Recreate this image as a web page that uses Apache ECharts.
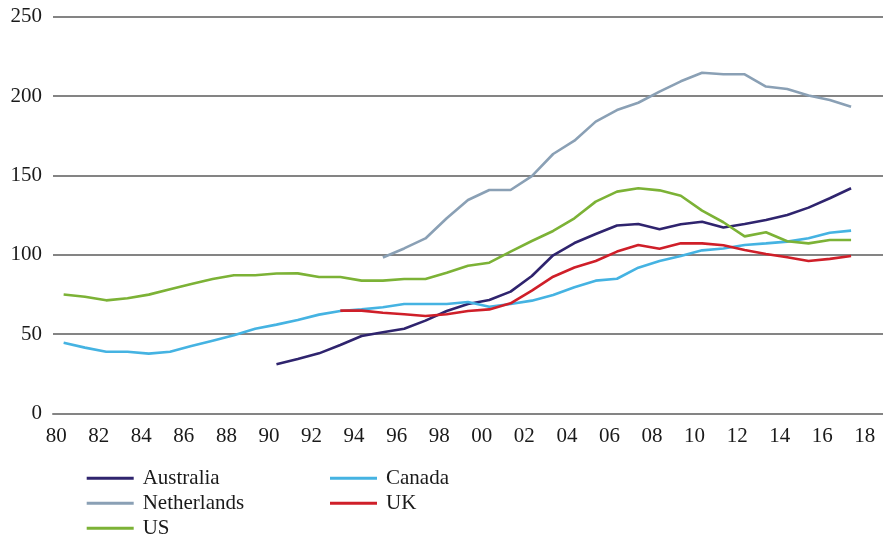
<!DOCTYPE html>
<html>
<head>
<meta charset="utf-8">
<script src="https://cdn.jsdelivr.net/npm/echarts@6/dist/echarts.min.js"></script>
<style>
  html, body { margin: 0; padding: 0; background: #fff; }
  #chart { width: 883px; height: 534px; }
</style>
</head>
<body>
<div id="chart"></div>
<script>
// 年份 1980-2018
const years = []
for (let y = 1980; y <= 2018; y++) years.push(String(y))

const yTicks = [0, 50, 100, 150, 200, 250]

// 各国数据 (1980-2017)，缺失为 null
const australia = [
  null, null, null, null, null, null, null, null, null, null,
  31, 34.3, 37.9, 43.2, 48.8, 51.2, 53.4, 58.5, 64.6, 69,
  71.5, 76.8, 86.6, 99.7, 107.4, 113.1, 118.4, 119.4, 116.1, 119.2,
  120.8, 117.2, 119.4, 121.9, 125.1, 129.7, 135.6, 141.9
]
const canada = [
  44.6, 41.5, 38.9, 38.9, 37.7, 38.9, 42.5, 45.9, 49.3, 53.4,
  56, 58.9, 62.3, 64.6, 65.6, 66.9, 69, 69, 69, 70.3,
  67.3, 69, 71.1, 74.7, 79.6, 83.7, 84.9, 91.9, 96.1, 99.2,
  102.8, 104, 106.2, 107.2, 108.3, 110.4, 113.9, 115.2
]
const netherlands = [
  null, null, null, null, null, null, null, null, null, null,
  null, null, null, null, null, 98.3, 104, 110.3, 123, 134.5,
  140.8, 140.8, 149.6, 163.5, 171.9, 183.9, 191.2, 195.8, 202.8, 209.3,
  214.7, 213.7, 213.7, 206, 204.5, 200.3, 197.5, 193.3
]
const uk = [
  null, null, null, null, null, null, null, null, null, null,
  null, null, null, 64.8, 64.8, 63.5, 62.5, 61.4, 62.5, 64.6,
  65.6, 69.4, 77.4, 86.2, 92, 96.1, 102, 106.2, 103.8, 107.2,
  107.2, 106, 103, 100.5, 98.4, 96.1, 97.4, 99.2
]
const us = [
  75, 73.6, 71.3, 72.6, 74.9, 78.3, 81.6, 84.7, 87.1, 87.1,
  88.2, 88.3, 86, 86, 83.7, 83.7, 84.7, 84.7, 88.7, 93.1,
  95, 102, 108.7, 115, 123, 133.5, 139.8, 141.9, 140.6, 137.2,
  127.8, 120.5, 111.6, 114.2, 108.5, 107.2, 109.3, 109.3
]

const FONT = '"Liberation Serif", "Times New Roman", serif'
const FONT_SIZE = 21
const GRID_COLOR = '#848484'

const makeLine = (name, data, color) => ({
  name,
  type: 'line',
  data,
  color,
  showSymbol: false,
  lineStyle: { width: 2.6, color },
  z: 3
})

// 图例两列，高度给足避免换列
const legendBase = {
  orient: 'vertical',
  top: 467.7,
  height: 80,
  padding: 0,
  itemGap: 4,
  itemWidth: 47,
  itemHeight: 3,
  icon: 'rect',
  textStyle: {
    fontFamily: FONT,
    fontSize: FONT_SIZE,
    lineHeight: 20,
    color: '#1a1a1a',
    padding: [0, 0, 0, 4]
  }
}

const chart = echarts.init(document.getElementById('chart'), null, { renderer: 'canvas' })

chart.setOption({
  animation: false,
  backgroundColor: '#fff',
  grid: { left: 53, right: -3, top: 16.7, bottom: 120.5 },
  legend: [
    { ...legendBase, left: 86.7, data: ['Australia', 'Netherlands', 'US'] },
    { ...legendBase, left: 330, data: ['Canada', 'UK'] }
  ],
  xAxis: {
    type: 'category',
    data: years,
    boundaryGap: true,
    axisLine: { lineStyle: { color: GRID_COLOR, width: 2 } },
    axisTick: { interval: 1, length: 6, lineStyle: { color: GRID_COLOR, width: 1.5 } },
    axisLabel: {
      interval: 1,
      margin: 12,
      fontFamily: FONT,
      fontSize: FONT_SIZE,
      color: '#1a1a1a',
      padding: [0, 15, 0, 0],
      formatter: (v) => v.slice(2)
    },
    splitLine: { show: false }
  },
  yAxis: {
    type: 'value',
    min: yTicks[0],
    max: yTicks[yTicks.length - 1],
    interval: yTicks[1] - yTicks[0],
    axisLine: { show: false },
    axisTick: { show: false },
    axisLabel: { margin: 11, fontFamily: FONT, fontSize: FONT_SIZE, color: '#1a1a1a' },
    splitLine: { lineStyle: { color: GRID_COLOR, width: 2 } }
  },
  series: [
    makeLine('Australia', australia, '#2f246e'),
    makeLine('Canada', canada, '#45b3e2'),
    makeLine('Netherlands', netherlands, '#8aa0b5'),
    makeLine('UK', uk, '#cf1f29'),
    makeLine('US', us, '#7cb236')
  ]
})
</script>
</body>
</html>
